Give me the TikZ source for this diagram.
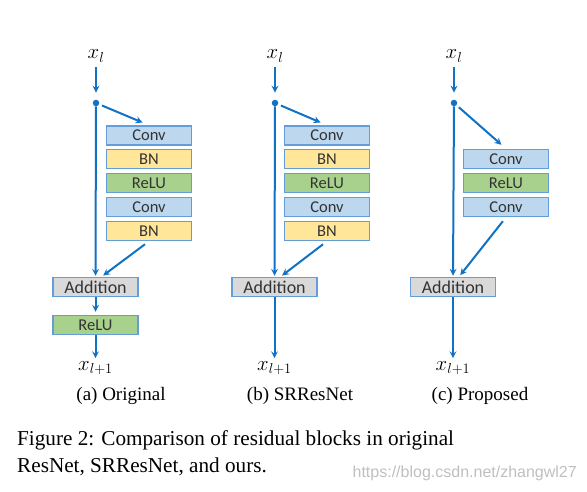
\documentclass[tikz,border=0pt]{standalone}
\usepackage{fontspec}
\setmainfont{Liberation Serif}
\setsansfont{Carlito}
\newfontfamily\markfont{Liberation Sans}
\usetikzlibrary{arrows,positioning}
\definecolor{flowblue}{RGB}{16,114,196}
\definecolor{boxline}{RGB}{100,158,218}
\definecolor{convfill}{RGB}{189,215,238}
\definecolor{bnfill}{RGB}{255,230,153}
\definecolor{relufill}{RGB}{169,209,142}
\definecolor{addfill}{RGB}{217,217,217}

\tikzset{
  flow/.style={->,line width=2pt,draw=flowblue},
  junction/.style={circle,fill=flowblue,inner sep=0pt,minimum size=6.5pt},
  layer/.style={draw=boxline,line width=1.5pt,minimum width=85pt,minimum height=19pt,
    inner sep=0pt,text=black!80,font=\sffamily\fontsize{16.5}{16.5}\selectfont},
  conv/.style={layer,fill=convfill},
  bn/.style={layer,fill=bnfill},
  relu/.style={layer,fill=relufill},
  addbox/.style={layer,fill=addfill,font=\sffamily\fontsize{18}{18}\selectfont},
  var/.style={inner sep=1pt,font=\fontsize{20}{20}\selectfont},
  subcap/.style={inner sep=0pt,font=\fontsize{19}{19}\selectfont},
}

\begin{document}
\begin{tikzpicture}[x=1pt,y=-1pt,>=stealth]
  \useasboundingbox (0,0) rectangle (587,492);

  \node[var] (xa) at (96,56) {$x_l$};
  \node[junction] (ja) at (96,103) {};
  \node[conv] (conva1) at (149,135.5) {Conv};
  \node[bn] (bna1) at (149,159) {BN};
  \node[relu] (relua) at (149,183) {ReLU};
  \node[conv] (conva2) at (149,207) {Conv};
  \node[bn] (bna2) at (149,231) {BN};
  \node[addbox] (adda) at (95.5,287) {Addition};
  \node[relu] (reluout) at (95.5,325) {ReLU};
  \node[var] (ya) at (95.5,368) {$x_{l+1}$};
  \node[subcap] (capa) at (121,396) {(a) Original};

  \draw[flow,shorten <=4pt,shorten >=7pt] (xa) -- (ja);
  \draw[flow,shorten >=1pt] (ja) -- (adda.north);
  \draw[flow,shorten <=3pt,shorten >=7pt] (ja) -- (conva1.north);
  \draw[flow,shorten <=5pt,shorten >=2pt] (bna2.south) -- ([xshift=6pt]adda.north);
  \draw[flow,shorten >=3pt] (adda) -- (reluout);
  \draw[flow,shorten >=2pt] (reluout) -- (ya);

  \node[var] (xb) at (275,56) {$x_l$};
  \node[junction] (jb) at (275,103) {};
  \node[conv] (convb1) at (327,135.5) {Conv};
  \node[bn] (bnb1) at (327,159) {BN};
  \node[relu] (relub) at (327,183) {ReLU};
  \node[conv] (convb2) at (327,207) {Conv};
  \node[bn] (bnb2) at (327,231) {BN};
  \node[addbox] (addb) at (274.5,287) {Addition};
  \node[var] (yb) at (274.5,368) {$x_{l+1}$};
  \node[subcap] (capb) at (300,396) {(b) SRResNet};

  \draw[flow,shorten <=4pt,shorten >=7pt] (xb) -- (jb);
  \draw[flow,shorten >=1pt] (jb) -- (addb.north);
  \draw[flow,shorten <=3pt,shorten >=7pt] (jb) -- (convb1.north);
  \draw[flow,shorten <=5pt,shorten >=2pt] (bnb2.south) -- ([xshift=6pt]addb.north);
  \draw[flow,shorten >=2pt] (addb) -- (yb);

  \node[var] (xc) at (454,56) {$x_l$};
  \node[junction] (jc) at (454,103) {};
  \node[conv] (convc1) at (506,159) {Conv};
  \node[relu] (reluc) at (506,183) {ReLU};
  \node[conv] (convc2) at (506,207) {Conv};
  \node[addbox] (addc) at (453,287) {Addition};
  \node[var] (yc) at (453,368) {$x_{l+1}$};
  \node[subcap] (capc) at (480,396) {(c) Proposed};

  \draw[flow,shorten <=4pt,shorten >=7pt] (xc) -- (jc);
  \draw[flow,shorten >=1pt] (jc) -- (addc.north);
  \draw[flow,shorten <=3pt,shorten >=6pt] (jc) -- (convc1.north);
  \draw[flow,shorten <=5pt,shorten >=2pt] (convc2.south) -- ([xshift=6pt]addc.north);
  \draw[flow,shorten >=2pt] (addc) -- (yc);

  \node[anchor=base west,inner sep=0pt,font=\fontsize{21.2}{21.2}\selectfont] (fig1) at (17,445)
    {Figure 2: Comparison of residual blocks in original};
  \node[anchor=base west,inner sep=0pt,font=\fontsize{21.2}{21.2}\selectfont] (fig2) at (17,472)
    {ResNet, SRResNet, and ours.};
  \node[anchor=base east,inner sep=0pt,text=black!25,font=\markfont\fontsize{16}{16}\selectfont] (mark) at (577,477)
    {https://blog.csdn.net/zhangwl27};
\end{tikzpicture}
\end{document}
